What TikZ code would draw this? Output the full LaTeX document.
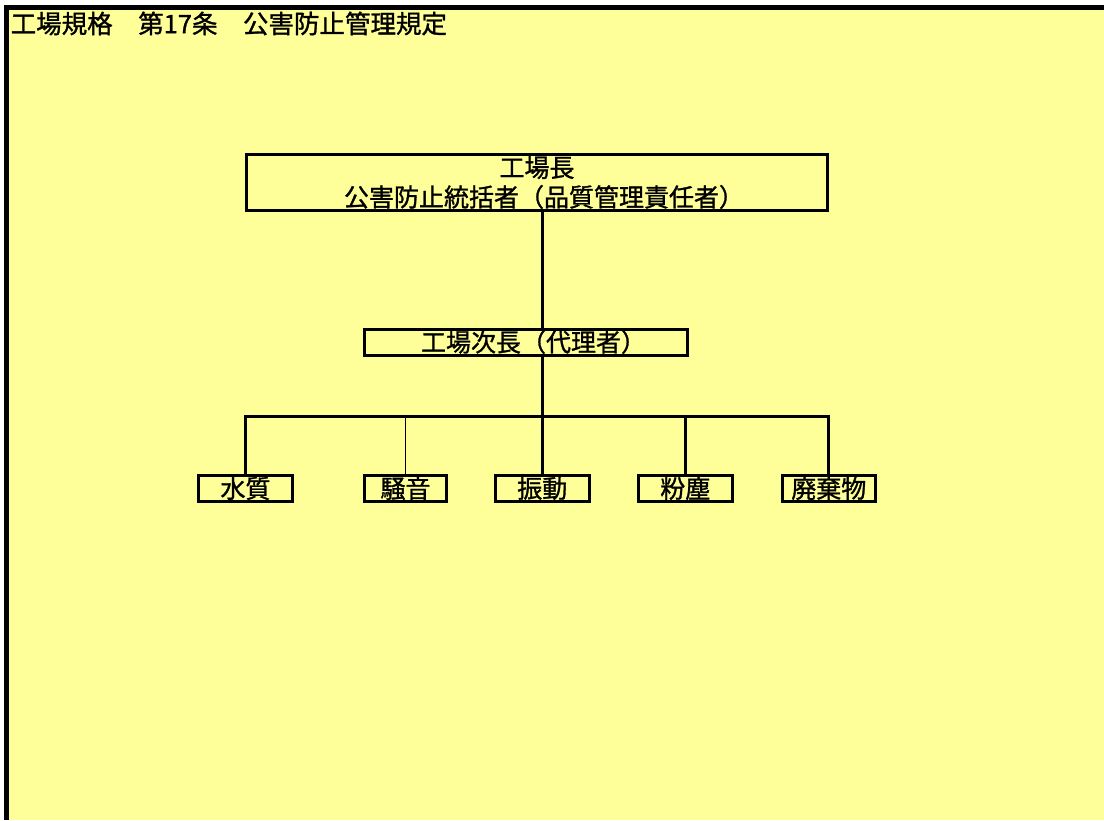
\documentclass[tikz,border=0pt]{standalone}
\usepackage{fontspec}
\setmainfont{Noto Sans CJK JP}[UprightFeatures={FakeBold=1.2}]
\definecolor{paper}{HTML}{FFFF99}
\tikzset{
  orgbox/.style={draw=black, line width=3pt, fill=paper, inner sep=0pt, align=center,
    font=\fontsize{25}{29.5}\selectfont},
  wire/.style={draw=black, line width=3pt},
  thinwire/.style={draw=black, line width=1.3pt},
}
\begin{document}
\begin{tikzpicture}[x=1pt,y=-1pt]
\useasboundingbox (0,0) rectangle (1104,820);
\fill[white] (0,0) rectangle (1104,820);
\fill[black] (4,5) rectangle (1104,820);
\fill[paper] (9,10) rectangle (1104,820);
\node[anchor=west, inner sep=0pt, font=\fontsize{25.5}{30}\selectfont] (title) at (10.5,23.5) {工場規格　第17条　公害防止管理規定};
\node[orgbox, minimum width=581pt, minimum height=56pt] (top) at (537,182.5) {工場長\\\hspace{14pt}公害防止統括者（品質管理責任者）};
\node[orgbox, minimum width=323pt, minimum height=26pt] (mid) at (525.5,342) {\hspace{16pt}工場次長（代理者）};
\coordinate (j) at (542.3,416);
\node[orgbox, minimum width=94.6pt, minimum height=26.3pt] (c1) at (245.5,488.4) {水質};
\node[orgbox, minimum width=82.6pt, minimum height=26.3pt] (c2) at (405.5,488.4) {騒音};
\node[orgbox, minimum width=93.7pt, minimum height=26.3pt] (c3) at (542.3,488.4) {振動};
\node[orgbox, minimum width=94.3pt, minimum height=26.3pt] (c4) at (685.3,488.4) {粉塵};
\node[orgbox, minimum width=92.7pt, minimum height=26.3pt] (c5) at (828.8,488.4) {廃棄物};
\draw[wire] (j |- top.south) -- (j |- mid.north);
\draw[wire] (j |- mid.south) -- (j);
\draw[wire, line join=miter] (c1.north) -- (c1.north |- j) -- (c5.north |- j) -- (c5.north);
\draw[wire] (j) -- (c3.north);
\draw[wire] (c4.north |- j) -- (c4.north);
\draw[thinwire] (c2.north |- j) -- (c2.north);
\end{tikzpicture}
\end{document}
